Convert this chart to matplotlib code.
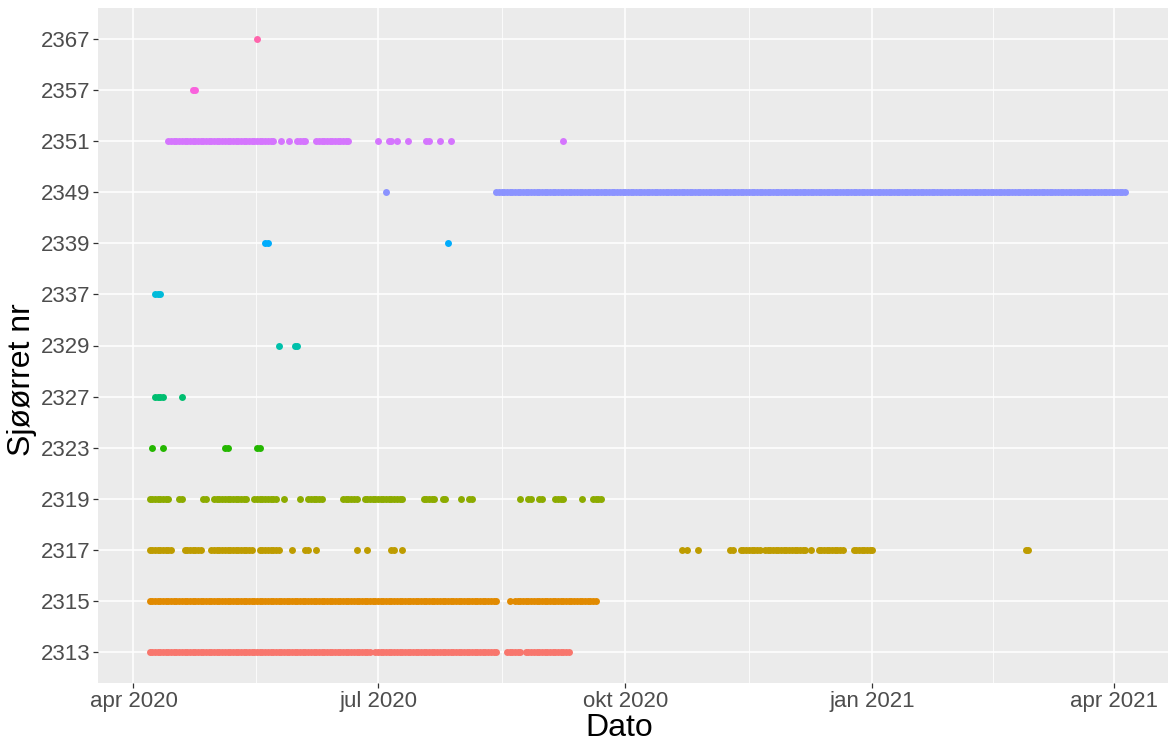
import numpy as np
import pandas as pd
import matplotlib
matplotlib.use("Agg")
from matplotlib import pyplot as plt

plt.rcParams['font.family'] = ['Liberation Sans', 'DejaVu Sans']

# fish ids (bottom to top) and their colours (ggplot default hue palette)
fish_ids = ["2313", "2315", "2317", "2319", "2323", "2327", "2329",
            "2337", "2339", "2349", "2351", "2357", "2367"]
fish_colors = ["#F8766D", "#E18A00", "#BE9C00", "#8CAB00", "#24B700", "#00BE70",
               "#00C1AB", "#00BBDA", "#00ACFC", "#8B93FF", "#D575FE", "#F962DD",
               "#FF65AC"]

# days with detections, stored as (first day, last day) runs
runs_2313 = [("2020-04-07", "2020-06-28"), ("2020-06-30", "2020-08-14"),
             ("2020-08-18", "2020-08-23"), ("2020-08-25", "2020-09-10")]
runs_2315 = [("2020-04-07", "2020-08-14"), ("2020-08-19", "2020-08-19"),
             ("2020-08-21", "2020-09-20")]
runs_2317 = [("2020-04-07", "2020-04-15"), ("2020-04-20", "2020-04-26"),
             ("2020-04-30", "2020-05-15"), ("2020-05-18", "2020-05-25"),
             ("2020-05-30", "2020-05-30"), ("2020-06-04", "2020-06-05"),
             ("2020-06-08", "2020-06-08"), ("2020-06-23", "2020-06-23"),
             ("2020-06-27", "2020-06-27"), ("2020-07-06", "2020-07-07"),
             ("2020-07-10", "2020-07-10"),
             ("2020-10-22", "2020-10-22"), ("2020-10-24", "2020-10-24"),
             ("2020-10-28", "2020-10-28"), ("2020-11-09", "2020-11-10"),
             ("2020-11-13", "2020-11-20"), ("2020-11-22", "2020-12-07"),
             ("2020-12-09", "2020-12-09"), ("2020-12-12", "2020-12-21"),
             ("2020-12-25", "2021-01-01"), ("2021-02-27", "2021-02-28")]
runs_2319 = [("2020-04-07", "2020-04-14"), ("2020-04-18", "2020-04-19"),
             ("2020-04-27", "2020-04-28"), ("2020-05-01", "2020-05-13"),
             ("2020-05-16", "2020-05-24"), ("2020-05-27", "2020-05-27"),
             ("2020-06-02", "2020-06-02"), ("2020-06-05", "2020-06-10"),
             ("2020-06-18", "2020-06-23"), ("2020-06-26", "2020-07-10"),
             ("2020-07-18", "2020-07-22"), ("2020-07-25", "2020-07-26"),
             ("2020-08-01", "2020-08-01"), ("2020-08-04", "2020-08-05"),
             ("2020-08-23", "2020-08-23"), ("2020-08-26", "2020-08-27"),
             ("2020-08-30", "2020-08-31"), ("2020-09-05", "2020-09-08"),
             ("2020-09-15", "2020-09-15"), ("2020-09-19", "2020-09-22")]
runs_2323 = [("2020-04-08", "2020-04-08"), ("2020-04-12", "2020-04-12"),
             ("2020-05-05", "2020-05-06"), ("2020-05-17", "2020-05-18")]
runs_2327 = [("2020-04-09", "2020-04-12"), ("2020-04-19", "2020-04-19")]
runs_2329 = [("2020-05-25", "2020-05-25"), ("2020-05-31", "2020-06-01")]
runs_2337 = [("2020-04-09", "2020-04-11")]
runs_2339 = [("2020-05-20", "2020-05-21"), ("2020-07-27", "2020-07-27")]
runs_2349 = [("2020-07-04", "2020-07-04"), ("2020-08-14", "2021-04-05")]
runs_2351 = [("2020-04-14", "2020-05-23"), ("2020-05-26", "2020-05-26"),
             ("2020-05-29", "2020-05-29"), ("2020-06-01", "2020-06-04"),
             ("2020-06-08", "2020-06-20"), ("2020-07-01", "2020-07-01"),
             ("2020-07-05", "2020-07-06"), ("2020-07-08", "2020-07-08"),
             ("2020-07-12", "2020-07-12"), ("2020-07-19", "2020-07-20"),
             ("2020-07-24", "2020-07-24"), ("2020-07-28", "2020-07-28"),
             ("2020-09-08", "2020-09-08")]
runs_2357 = [("2020-04-23", "2020-04-24")]
runs_2367 = [("2020-05-17", "2020-05-17")]

all_runs = [runs_2313, runs_2315, runs_2317, runs_2319, runs_2323, runs_2327,
            runs_2329, runs_2337, runs_2339, runs_2349, runs_2351, runs_2357,
            runs_2367]

tick_dates = ["2020-04-01", "2020-07-01", "2020-10-01", "2021-01-01", "2021-04-01"]
tick_labels = ["apr 2020", "jul 2020", "okt 2020", "jan 2021", "apr 2021"]

fig = plt.figure(figsize=(11.68, 7.44), dpi=100)
ax = fig.add_axes([98 / 1168, 61 / 744, 1070 / 1168, 675 / 744])
ax.set_facecolor("#EBEBEB")
for s in ax.spines.values():
    s.set_visible(False)

for i, (runs, col) in enumerate(zip(all_runs, fish_colors)):
    days = pd.DatetimeIndex([])
    for a, b in runs:
        days = days.append(pd.date_range(a, b, freq="D"))
    ax.scatter(days, np.full(len(days), i + 1), s=25, color=col,
               linewidths=0, zorder=3)

major = pd.to_datetime(tick_dates)
minor = major[:-1] + (major[1:] - major[:-1]) / 2
ax.set_xticks(major)
ax.set_xticklabels(tick_labels)
ax.set_xticks(minor, minor=True)
ax.set_yticks(np.arange(1, len(fish_ids) + 1))
ax.set_yticklabels(fish_ids)

ax.set_xlim(pd.Timestamp("2020-03-18 19:00"), pd.Timestamp("2021-04-21"))
ax.set_ylim(0.4, len(fish_ids) + 0.6)

ax.grid(which="major", color="white", linewidth=1.1, zorder=1)
ax.grid(which="minor", axis="x", color="white", linewidth=0.55, zorder=1)
ax.set_axisbelow(True)
ax.tick_params(which="major", length=3.5, width=0.9, color="#333333",
               labelcolor="#4D4D4D", labelsize=16, pad=2)
ax.tick_params(which="minor", length=0)

ax.set_xlabel("Dato", fontsize=23, color="black")
ax.set_ylabel("Sjøørret nr", fontsize=23, color="black")
# xlabel is anchored at its top, ylabel at its right-hand (bottom) side
ax.xaxis.set_label_coords(0.487, -0.045)
ax.yaxis.set_label_coords(-0.057, 0.45)

fig.savefig("out.png", dpi=100)
